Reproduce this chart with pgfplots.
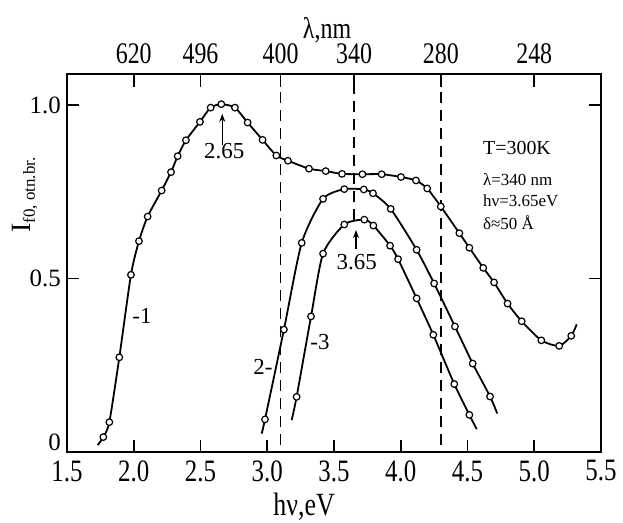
\documentclass[border=0pt]{standalone}
\usepackage{pgfplots}
\pgfplotsset{compat=1.18}
\usepackage{graphicx}
\usepackage{fontspec}
\setmainfont{Liberation Serif}
\usetikzlibrary{arrows.meta}
\newcommand{\vs}[1]{\scalebox{1}[1.25]{#1}}
\begin{document}
\begin{tikzpicture}
\path[use as bounding box] (-67bp,-71bp) rectangle (556bp,452bp);
\begin{axis}[
  at={(0,0)}, anchor=south west,
  width=534bp, height=378bp, scale only axis,
  xmin=1.5, xmax=5.5, ymin=0, ymax=1.09,
  clip=false,
  axis line style={line width=2bp},
  /pgf/number format/assume math mode=true,
  xtick={1.5,2,2.5,3,3.5,4,4.5,5,5.5},
  xticklabels={\vs{1.5},\vs{2.0},\vs{2.5},\vs{3.0},\vs{3.5},\vs{4.0},\vs{4.5},\vs{5.0},\vs{5.5}},
  ytick={0.5,1.0}, yticklabels={0.5,1.0},
  extra y ticks={0}, extra y tick labels={0},
  extra y tick style={yticklabel style={anchor=south east, yshift=1bp}},
  tick align=inside, major tick length=12bp,
  tick style={line width=1.6bp, black},
  xtick pos=bottom,
  xticklabel style={font=\fontsize{25}{25}\selectfont, anchor=center, yshift=-19bp},
  yticklabel style={font=\fontsize{25}{25}\selectfont, anchor=east, inner sep=0pt, xshift=-6bp},
  xlabel={\vs{hν,eV}},
  xlabel style={font=\fontsize{26}{26}\selectfont, at={(rel axis cs:0.444,-0.146)}, anchor=center},
  ylabel={I\raisebox{-0.35ex}{\fontsize{17}{17}\selectfont f0, otn.br.}},
  ylabel style={font=\fontsize{28}{28}\selectfont, at={(rel axis cs:-0.079,0.68)}, anchor=center, rotate=0},
]
% dashed guides
\addplot[black, line width=1.5bp, dash pattern=on 11bp off 7bp] coordinates {(3.1,0.02) (3.1,1.09)};
\addplot[black, line width=1.5bp, dash pattern=on 11bp off 7bp] coordinates {(3.65,0.67) (3.65,1.09)};
\addplot[black, line width=1.5bp, dash pattern=on 11bp off 7bp] coordinates {(4.3,0.02) (4.3,1.09)};

% curve 1
\addplot[black, line width=1.8bp, smooth, tension=0.4] coordinates {
(1.73,0.02) (1.772,0.043) (1.817,0.086) (1.892,0.273) (1.979,0.511) (2.039,0.608)
(2.104,0.679) (2.209,0.754) (2.279,0.807) (2.329,0.853) (2.391,0.899) (2.496,0.952)
(2.576,0.993) (2.656,1.003) (2.758,0.993) (2.853,0.950) (2.965,0.900) (3.068,0.855)
(3.155,0.840) (3.313,0.817) (3.438,0.810) (3.560,0.802) (3.713,0.801) (3.857,0.801)
(4.002,0.793) (4.114,0.783) (4.198,0.760) (4.300,0.708) (4.439,0.631) (4.514,0.589)
(4.618,0.531) (4.699,0.489) (4.800,0.428) (4.906,0.377) (5.053,0.322) (5.187,0.306)
(5.277,0.335) (5.318,0.368)};
\addplot[only marks, mark=*, mark size=3.3bp, mark options={fill=white, draw=black, line width=1.2bp}] coordinates {
(1.772,0.043) (1.817,0.086) (1.892,0.273) (1.979,0.511) (2.039,0.608)
(2.104,0.679) (2.209,0.754) (2.279,0.807) (2.329,0.853) (2.391,0.899) (2.496,0.952)
(2.576,0.993) (2.656,1.003) (2.758,0.993) (2.853,0.950) (2.965,0.900) (3.068,0.855)
(3.155,0.840) (3.313,0.817) (3.438,0.810) (3.560,0.802) (3.713,0.801) (3.857,0.801)
(4.002,0.793) (4.114,0.783) (4.198,0.760) (4.300,0.708) (4.439,0.631) (4.514,0.589)
(4.618,0.531) (4.699,0.489) (4.800,0.428) (4.906,0.377) (5.053,0.322) (5.187,0.306)
(5.277,0.335)};

% curve 2
\addplot[black, line width=1.8bp, smooth, tension=0.4] coordinates {
(2.958,0.053) (2.983,0.094) (3.125,0.353) (3.258,0.603) (3.418,0.730) (3.577,0.758)
(3.723,0.757) (3.792,0.746) (3.925,0.701) (4.119,0.583) (4.250,0.486) (4.406,0.362)
(4.539,0.255) (4.669,0.160) (4.723,0.111)};
\addplot[only marks, mark=*, mark size=3.3bp, mark options={fill=white, draw=black, line width=1.2bp}] coordinates {
(2.983,0.094) (3.125,0.353) (3.258,0.603) (3.418,0.730) (3.577,0.758)
(3.723,0.757) (3.792,0.746) (3.925,0.701) (4.119,0.583) (4.250,0.486) (4.406,0.362)
(4.539,0.255) (4.669,0.160)};

% curve 3
\addplot[black, line width=1.8bp, smooth, tension=0.4] coordinates {
(3.183,0.092) (3.220,0.159) (3.328,0.391) (3.418,0.572) (3.577,0.656) (3.727,0.670)
(3.795,0.653) (3.920,0.595) (3.980,0.556) (4.119,0.443) (4.244,0.338) (4.401,0.196)
(4.514,0.107) (4.569,0.066)};
\addplot[only marks, mark=*, mark size=3.3bp, mark options={fill=white, draw=black, line width=1.2bp}] coordinates {
(3.220,0.159) (3.328,0.391) (3.418,0.572) (3.577,0.656) (3.727,0.670)
(3.795,0.653) (3.920,0.595) (3.980,0.556) (4.119,0.443) (4.244,0.338) (4.401,0.196)
(4.514,0.107)};

% annotations
\draw[line width=1.3bp, -{Stealth[length=8bp,width=6bp]}] (axis cs:2.663,0.885) -- (axis cs:2.663,0.975);
\node[font=\fontsize{23}{23}\selectfont] at (axis cs:2.678,0.868) {2.65};
\draw[line width=1.3bp, -{Stealth[length=8bp,width=6bp]}] (axis cs:3.665,0.585) -- (axis cs:3.665,0.640);
\node[font=\fontsize{23}{23}\selectfont] at (axis cs:3.67,0.548) {3.65};
\node[font=\fontsize{23}{23}\selectfont] at (axis cs:2.062,0.393) {-1};
\node[font=\fontsize{23}{23}\selectfont] at (axis cs:2.968,0.244) {2-};
\node[font=\fontsize{23}{23}\selectfont] at (axis cs:3.395,0.316) {-3};

\node[anchor=west, font=\fontsize{20}{20}\selectfont, inner sep=0pt] at (axis cs:4.616,0.876) {T=300K};
\node[anchor=west, font=\fontsize{17}{17}\selectfont, inner sep=0pt] at (axis cs:4.616,0.786) {λ=340 nm};
\node[anchor=west, font=\fontsize{17}{17}\selectfont, inner sep=0pt] at (axis cs:4.616,0.725) {hν=3.65eV};
\node[anchor=west, font=\fontsize{17}{17}\selectfont, inner sep=0pt] at (axis cs:4.616,0.662) {δ≈50 Å};
\end{axis}

\begin{axis}[
  at={(0,0)}, anchor=south west,
  width=534bp, height=378bp, scale only axis,
  xmin=1.5, xmax=5.5, ymin=0, ymax=1.09,
  axis x line*=top, axis y line=none,
  axis line style={line width=2bp},
  xtick={2,2.5,3.1,3.65,4.3,5},
  xticklabels={\vs{620},\vs{496},\vs{400},\vs{340},\vs{280},\vs{248}},
  tick align=inside, major tick length=13bp,
  tick style={line width=1.6bp, black},
  xticklabel style={font=\fontsize{24}{24}\selectfont, anchor=center, yshift=20bp},
  xlabel={\vs{λ,nm}},
  xlabel style={font=\fontsize{24}{24}\selectfont, at={(rel axis cs:0.487,1.116)}, anchor=center},
]
\addplot[draw=none] coordinates {(2,0.5)};
\end{axis}
\end{tikzpicture}
\end{document}
